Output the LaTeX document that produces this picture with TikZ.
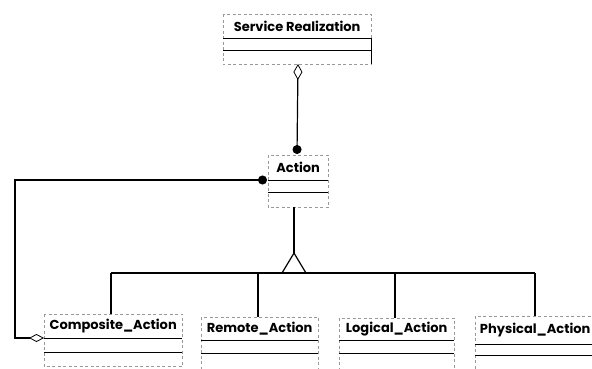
\documentclass[tikz,border=0pt]{standalone}
\usepackage{fontspec}
\setmainfont{Poppins}
\usetikzlibrary{arrows.meta}
\tikzset{
  cname/.style={anchor=north west, inner sep=0pt, font=\bfseries\fontsize{13}{15}\selectfont},
  border/.style={draw=black!40, line width=0.5pt, dash pattern=on 3pt off 2.5pt},
  comp/.style={draw=black, line width=1.1pt},
  conn/.style={draw=black, line width=1.2pt},
}
\begin{document}
\begin{tikzpicture}[x=1pt,y=-1pt]
\useasboundingbox (0,0) rectangle (592,368);
% class boxes: name area nodes
\node[cname, minimum width=148pt, minimum height=24pt] (sr) at (223,14) {Service Realization};
\node[cname, minimum width=60pt, minimum height=25pt] (act) at (268,155) {Action};
\node[cname, minimum width=138pt, minimum height=24pt] (comp) at (44,314) {Composite\_Action};
\node[cname, minimum width=117pt, minimum height=23pt] (rem) at (201,317) {Remote\_Action};
\node[cname, minimum width=115pt, minimum height=22pt] (log) at (339,318) {Logical\_Action};
\node[cname, minimum width=120pt, minimum height=28pt] (phy) at (475,316) {Physical\_Action};
% borders and compartments
\draw[border] (sr.north west) rectangle ([yshift=-26pt]sr.south east);
\draw[comp] (sr.south west) -- (sr.south east) ([yshift=-12pt]sr.south west) -- ([yshift=-12pt]sr.south east);
\draw[comp] (sr.south east) -- ([yshift=-26pt]sr.south east);
\draw[border] (act.north west) rectangle ([yshift=-27pt]act.south east);
\draw[comp] (act.south west) -- (act.south east) ([yshift=-12pt]act.south west) -- ([yshift=-12pt]act.south east);
\draw[border] (comp.north west) rectangle ([yshift=-28pt]comp.south east);
\draw[comp] (comp.south west) -- (comp.south east) ([yshift=-14pt]comp.south west) -- ([yshift=-14pt]comp.south east);
\draw[border] (rem.north west) rectangle ([yshift=-30pt]rem.south east);
\draw[comp] (rem.south west) -- (rem.south east) ([yshift=-13pt]rem.south west) -- ([yshift=-13pt]rem.south east);
\draw[border] (log.north west) rectangle ([yshift=-30pt]log.south east);
\draw[comp] (log.south west) -- (log.south east) ([yshift=-13pt]log.south west) -- ([yshift=-13pt]log.south east);
\draw[border] (phy.north west) rectangle ([yshift=-30pt]phy.south east);
\draw[comp] (phy.south west) -- (phy.south east) ([yshift=-11pt]phy.south west) -- ([yshift=-11pt]phy.south east);
% aggregation Service Realization - Action
\coordinate (srb) at (298,64);
\coordinate (actt) at (297,154);
\draw[conn, {Diamond[open,length=16pt,width=9pt,line width=0.8pt]}-{Circle[length=9pt]}] (srb) -- (actt);
% recursive aggregation Composite_Action - Action
\coordinate (cw) at (44,338);
\coordinate (aw) at (267,180);
\draw[conn, {Diamond[open,length=15pt,width=8pt,line width=0.8pt]}-{Circle[length=9pt]}] (cw) -- (15,338) -- (15,180) -- (aw);
% generalization
\coordinate (tri) at (294,273);
\draw[conn] (294,207) -- ([yshift=20pt]tri);
\draw[conn] ([xshift=-12pt]tri) -- ([yshift=20pt]tri) -- ([xshift=12pt]tri);
\coordinate (bl) at (111,273);
\coordinate (br) at (535,273);
\draw[conn] (bl) -- (br);
\draw[conn] (bl) -- (bl |- comp.north);
\draw[conn] (258,273) -- (258,317);
\draw[conn] (395,273) -- (395,318);
\draw[conn] (br) -- (br |- phy.north);
\end{tikzpicture}
\end{document}
